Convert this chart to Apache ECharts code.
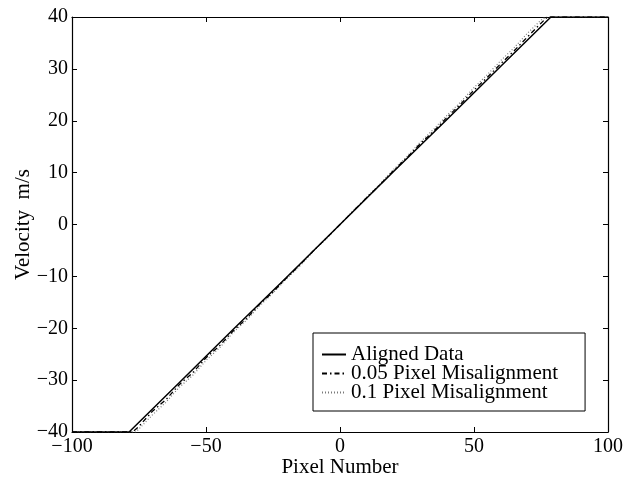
<!DOCTYPE html>
<html>
<head>
<meta charset="utf-8">
<title>Velocity vs Pixel Number</title>
<script src="https://cdn.jsdelivr.net/npm/echarts@6/dist/echarts.min.js"></script>
<style>
  html, body { margin: 0; padding: 0; background: #ffffff; }
  #chart { width: 637px; height: 477px; }
</style>
</head>
<body>
<div id="chart"></div>
<script>
// Axis ticks
const xTicks = [-100, -50, 0, 50, 100];
const yTicks = [-40, -30, -20, -10, 0, 10, 20, 30, 40];

// Series names
const seriesNames = ['Aligned Data', '0.05 Pixel Misalignment', '0.1 Pixel Misalignment'];

// Aligned data (velocity saturates at ±40 m/s)
const pixelAligned = [-100, -78.7, -60, -40, -20, 0, 20, 40, 60, 78.7, 100];
const velAligned   = [-40, -40, -30.5, -20.3, -10.2, 0, 10.2, 20.3, 30.5, 40, 40];

// 0.05 pixel misalignment
const pixel005 = [-100, -77.4, -75, -70, -65, -60, -55, -50, -45, -40, -35, -30, -25, -20, -15, -10, -5, 0,
                  5, 10, 15, 20, 25, 30, 35, 40, 45, 50, 55, 60, 65, 70, 75, 77.4, 100];
const vel005   = [-40, -40, -38.9, -36.0, -33.8, -30.9, -28.6, -25.7, -23.4, -20.6, -18.2, -15.4, -13.0, -10.3, -7.8, -5.1, -2.6, 0,
                  2.6, 5.2, 7.7, 10.4, 12.9, 15.6, 18.0, 20.7, 23.2, 25.9, 28.4, 31.0, 33.5, 36.2, 38.8, 40, 40];

// 0.1 pixel misalignment
const pixel01 = [-100, -76.2, -75, -70, -65, -60, -55, -50, -45, -40, -35, -30, -25, -20, -15, -10, -5, 0,
                 5, 10, 15, 20, 25, 30, 35, 40, 45, 50, 55, 60, 65, 70, 75, 76.8, 100];
const vel01   = [-40, -40, -39.4, -36.7, -34.3, -31.4, -29.1, -26.2, -23.8, -20.9, -18.5, -15.7, -13.2, -10.5, -8.0, -5.2, -2.7, 0,
                 2.7, 5.3, 7.9, 10.6, 13.1, 15.9, 18.4, 21.1, 23.6, 26.4, 28.9, 31.6, 34.1, 36.9, 39.4, 40, 40];

const pairs = (xs, ys) => xs.map((x, i) => [x, ys[i]]);
const minus = v => String(v).replace('-', '\u2212');

const serif = 'Liberation Serif';
const chart = echarts.init(document.getElementById('chart'), null, { renderer: 'canvas' });

const tickStyle = { show: true, inside: true, length: 5, lineStyle: { color: '#000', width: 1 } };
const lineStyleAxis = { show: true, onZero: false, lineStyle: { color: '#000', width: 1.2 } };

chart.setOption({
  backgroundColor: '#ffffff',
  animation: false,
  grid: { left: 72, right: 29, top: 17, bottom: 45, containLabel: false, outerBoundsMode: 'none' },
  xAxis: [
    {
      type: 'value', min: -100, max: 100, interval: 50, position: 'bottom',
      name: 'Pixel Number', nameLocation: 'middle', nameGap: 25, nameMoveOverlap: false,
      nameTextStyle: { fontFamily: serif, fontSize: 21, color: '#000' },
      axisLine: lineStyleAxis, axisTick: tickStyle, splitLine: { show: false },
      axisLabel: { fontFamily: serif, fontSize: 20, color: '#000', margin: 5,
                   formatter: v => xTicks.includes(v) ? minus(v) : '' }
    },
    {
      type: 'value', min: -100, max: 100, interval: 50, position: 'top',
      axisLine: lineStyleAxis, axisTick: tickStyle, splitLine: { show: false },
      axisLabel: { show: false }
    }
  ],
  yAxis: [
    {
      type: 'value', min: -40, max: 40, interval: 10, position: 'left',
      name: 'Velocity  m/s', nameLocation: 'middle', nameGap: 38, nameMoveOverlap: false,
      nameTextStyle: { fontFamily: serif, fontSize: 21, color: '#000' },
      axisLine: lineStyleAxis, axisTick: tickStyle, splitLine: { show: false },
      axisLabel: { fontFamily: serif, fontSize: 20, color: '#000', margin: 4,
                   formatter: v => yTicks.includes(v) ? minus(v) : '' }
    },
    {
      type: 'value', min: -40, max: 40, interval: 10, position: 'right',
      axisLine: lineStyleAxis, axisTick: tickStyle, splitLine: { show: false },
      axisLabel: { show: false }
    }
  ],
  legend: {
    orient: 'vertical', left: 313, top: 333,
    padding: [11, 27, 8, 8],
    itemWidth: 24, itemHeight: 12, itemGap: -2,
    backgroundColor: '#ffffff', borderColor: '#000', borderWidth: 1,
    itemStyle: { color: 'transparent', borderWidth: 0, opacity: 0 },
    textStyle: { fontFamily: serif, fontSize: 21, color: '#000' },
    data: seriesNames
  },
  series: [
    {
      name: seriesNames[2], type: 'line', data: pairs(pixel01, vel01),
      symbol: 'none', showSymbol: false, z: 2, color: '#7a7a7a',
      lineStyle: { color: '#7a7a7a', width: 1.2, type: [1, 2] }
    },
    {
      name: seriesNames[1], type: 'line', data: pairs(pixel005, vel005),
      symbol: 'none', showSymbol: false, z: 3, color: '#000',
      lineStyle: { color: '#000', width: 1.3, type: [5, 3, 1.5, 3] }
    },
    {
      name: seriesNames[0], type: 'line', data: pairs(pixelAligned, velAligned),
      symbol: 'none', showSymbol: false, z: 4, color: '#000',
      lineStyle: { color: '#000', width: 1.5, type: 'solid' }
    }
  ]
});
</script>
</body>
</html>
